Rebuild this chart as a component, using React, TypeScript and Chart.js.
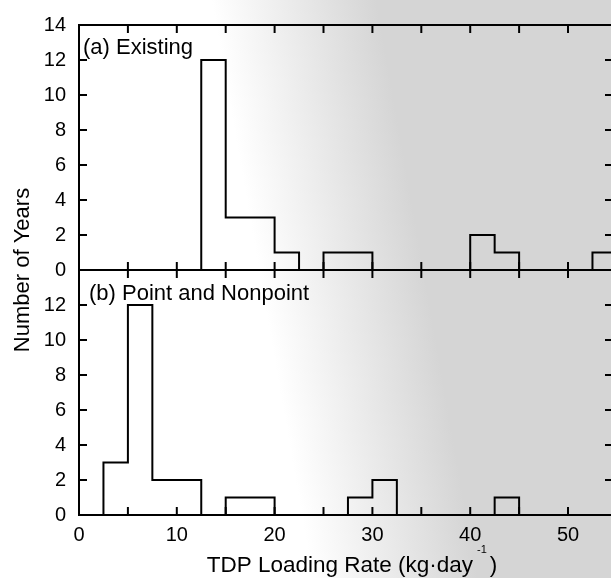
import { useEffect, useRef } from 'react';
import { Chart, registerables } from 'chart.js';

Chart.register(...registerables);

// Histogram bin left edges (kg·day⁻¹); the last entry closes the final bin
const binStarts = [0, 2.5, 5, 7.5, 10, 12.5, 15, 17.5, 20, 22.5, 25, 27.5, 30, 32.5, 35, 37.5, 40, 42.5, 45, 47.5, 50, 52.5, 55];
// Number of years per bin
const existingCounts = [0, 0, 0, 0, 0, 12, 3, 3, 1, 0, 1, 1, 0, 0, 0, 0, 2, 1, 0, 0, 0, 1, 0];
const pointNonpointCounts = [0, 3, 12, 2, 2, 0, 1, 1, 0, 0, 0, 1, 2, 0, 0, 0, 0, 1, 0, 0, 0, 0, 0];

const panelLabels = ['(a) Existing', '(b) Point and Nonpoint'];
const yTitle = 'Number of Years';
const xTitleMain = 'TDP Loading Rate (kg·day';
const xTitleSup = '-1';
const xTitleEnd = ')';

const FONT = '"Liberation Sans", Arial, Helvetica, sans-serif';

const decor = {
  id: 'decor',
  beforeDraw(chart: any) {
    const { ctx, width, height } = chart;
    ctx.save();
    const g = ctx.createLinearGradient(215, 20, 375, -8);
    g.addColorStop(0, '#ffffff');
    g.addColorStop(1, '#d5d5d5');
    ctx.fillStyle = g;
    ctx.fillRect(0, 0, width, height);
    ctx.restore();
  },
  afterDatasetsDraw(chart: any) {
    const { ctx, chartArea } = chart;
    const xs = chart.scales.x;
    const yt = chart.scales.yTop;
    const yb = chart.scales.yBottom;
    const L = chartArea.left;
    const R = chartArea.right;
    const TL = 8;
    ctx.save();
    ctx.strokeStyle = '#000';
    ctx.lineWidth = 2;
    ctx.lineCap = 'butt';
    const line = (x1: number, y1: number, x2: number, y2: number) => {
      ctx.beginPath();
      ctx.moveTo(x1, y1);
      ctx.lineTo(x2, y2);
      ctx.stroke();
    };
    // frame
    line(L - 1, yt.top, R, yt.top);
    line(L - 1, yt.bottom, R, yt.bottom);
    line(L - 1, yb.bottom, R, yb.bottom);
    line(L, yt.top, L, yb.bottom);
    line(R - 1, yt.top, R - 1, yb.bottom);
    // ticks
    for (const p of [yt, yb]) {
      for (const t of xs.ticks) {
        const px = xs.getPixelForValue(t.value);
        if (px <= L + 1 || px >= R - 1) continue;
        line(px, p.top, px, p.top + TL);
        line(px, p.bottom, px, p.bottom - TL);
      }
      for (const t of p.ticks) {
        const py = p.getPixelForValue(t.value);
        line(L, py, L + TL, py);
        line(R, py, R - TL, py);
      }
    }
    // panel labels
    ctx.fillStyle = '#000';
    ctx.font = `22px ${FONT}`;
    ctx.textAlign = 'left';
    ctx.textBaseline = 'alphabetic';
    ctx.fillText(panelLabels[0], L + 4, yt.top + 29);
    ctx.fillText(panelLabels[1], L + 10, yb.top + 30);
    // y title
    ctx.save();
    ctx.translate(29, (yt.top + yb.bottom) / 2);
    ctx.rotate(-Math.PI / 2);
    ctx.textAlign = 'center';
    ctx.fillText(yTitle, 0, 0);
    ctx.restore();
    // x title with superscript
    ctx.font = `22.5px ${FONT}`;
    const wMain = ctx.measureText(xTitleMain).width;
    ctx.font = `11px ${FONT}`;
    const wSup = ctx.measureText(xTitleSup).width;
    ctx.font = `22.5px ${FONT}`;
    const wEnd = ctx.measureText(xTitleEnd).width;
    const total = wMain + 4 + wSup + 3 + wEnd;
    let x0 = 352 - total / 2;
    const base = 572;
    ctx.textAlign = 'left';
    ctx.fillText(xTitleMain, x0, base);
    x0 += wMain + 4;
    ctx.font = `11px ${FONT}`;
    ctx.fillText(xTitleSup, x0, base - 19);
    x0 += wSup + 3;
    ctx.font = `22.5px ${FONT}`;
    ctx.fillText(xTitleEnd, x0, base);
    ctx.restore();
  },
};

export default function App() {
  const ref = useRef<HTMLCanvasElement>(null);
  useEffect(() => {
    const canvas = ref.current;
    if (!canvas) return;
    const toPoints = (counts: number[]) => binStarts.map((x, i) => ({ x, y: counts[i] }));
    const tickFont = { family: FONT, size: 20 };
    const yCommon = {
      type: 'linear' as const,
      position: 'left' as const,
      stack: 'panels',
      stackWeight: 1,
      min: 0,
      max: 14,
      grid: { display: false, drawTicks: false },
      border: { display: false },
      afterFit: (s: any) => {
        s.width = 79;
      },
    };
    const chart = new Chart(canvas, {
      type: 'line',
      data: {
        datasets: [
          {
            label: 'Existing',
            data: toPoints(existingCounts),
            yAxisID: 'yTop',
            stepped: 'before',
            borderColor: '#000',
            borderWidth: 2,
            pointRadius: 0,
            fill: false,
          },
          {
            label: 'Point and Nonpoint',
            data: toPoints(pointNonpointCounts),
            yAxisID: 'yBottom',
            stepped: 'before',
            borderColor: '#000',
            borderWidth: 2,
            pointRadius: 0,
            fill: false,
          },
        ],
      },
      options: {
        animation: false,
        responsive: false,
        maintainAspectRatio: false,
        layout: { padding: { top: 17, right: 0, bottom: 0, left: 0 } },
        plugins: { legend: { display: false }, tooltip: { enabled: false }, title: { display: false } },
        scales: {
          x: {
            type: 'linear',
            min: 0,
            max: 54.6,
            grid: { display: false, drawTicks: false },
            border: { display: false },
            ticks: {
              stepSize: 5,
              includeBounds: false,
              autoSkip: false,
              maxRotation: 0,
              padding: 8,
              color: '#000',
              font: tickFont,
              callback: (v: any) => (Number(v) % 10 === 0 ? String(v) : ''),
            },
            afterFit: (s: any) => {
              s.height = 63;
            },
          },
          yBottom: {
            ...yCommon,
            ticks: {
              stepSize: 2,
              autoSkip: false,
              padding: 13,
              color: '#000',
              font: tickFont,
              callback: (v: any) => (Number(v) === 14 ? '' : String(v)),
            },
          },
          yTop: {
            ...yCommon,
            ticks: {
              stepSize: 2,
              autoSkip: false,
              padding: 13,
              color: '#000',
              font: tickFont,
              callback: (v: any) => String(v),
            },
          },
        },
      },
      plugins: [decor],
    } as any);
    return () => chart.destroy();
  }, []);
  return (
    <div style={{ position: 'fixed', left: 0, top: 0, width: 611, height: 578, overflow: 'hidden', background: '#fff' }}>
      <canvas ref={ref} width={613} height={578} style={{ display: 'block', width: 613, height: 578 }} />
    </div>
  );
}
